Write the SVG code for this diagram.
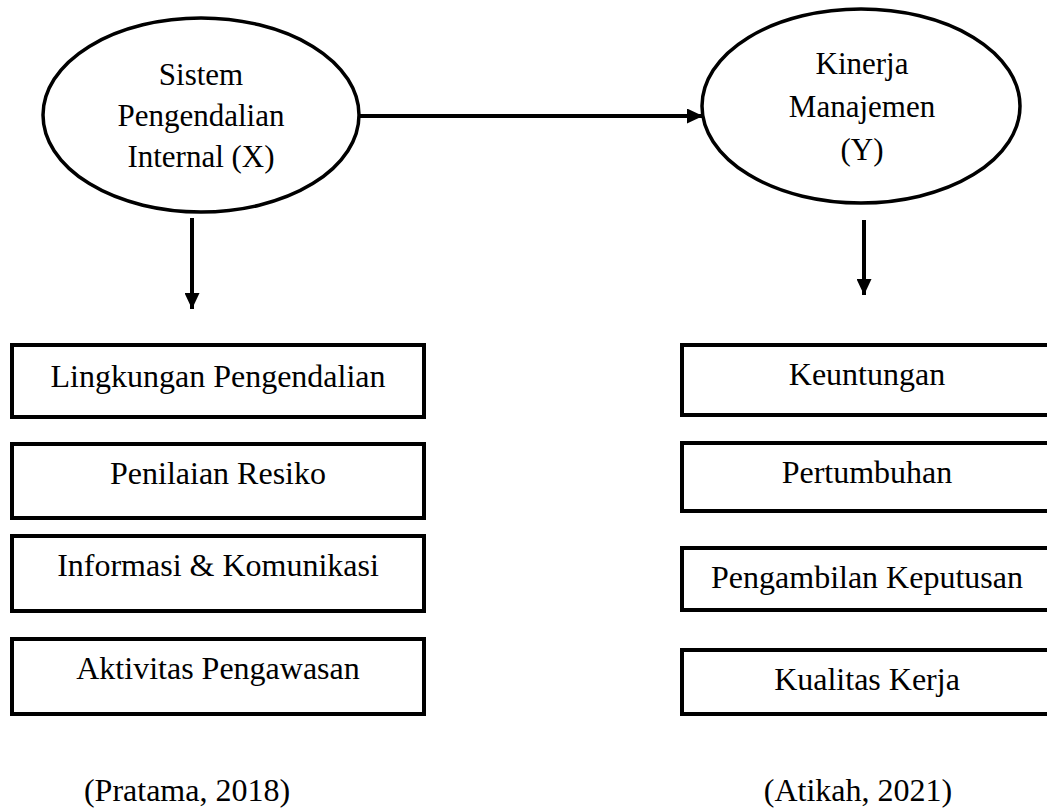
<svg xmlns="http://www.w3.org/2000/svg" width="1047" height="810" viewBox="0 0 1047 810">
  <defs>
    <style>
      .shape { fill: #ffffff; stroke: #000000; stroke-width: 4; }
      .ell { fill: #ffffff; stroke: #000000; stroke-width: 3.5; }
      .t { font-family: "Liberation Serif", "Times New Roman", serif; font-size: 32px; fill: #000000; text-anchor: middle; }
      .te { font-family: "Liberation Serif", "Times New Roman", serif; font-size: 31px; fill: #000000; text-anchor: middle; }
      .conn { stroke: #000000; stroke-width: 4; fill: none; }
    </style>
    <marker id="arrow" viewBox="0 0 16 15" refX="16" refY="7.5" markerWidth="16" markerHeight="15" markerUnits="userSpaceOnUse" orient="auto">
      <path d="M0,0 L16,7.5 L0,15 Z" fill="#000000"/>
    </marker>
  </defs>
  <rect width="1047" height="810" fill="#ffffff"/>

  <g id="connectors">
    <line class="conn" x1="360" y1="116" x2="703" y2="116" marker-end="url(#arrow)"/>
    <line class="conn" x1="192" y1="218" x2="192" y2="309" marker-end="url(#arrow)"/>
    <line class="conn" x1="864" y1="220" x2="864" y2="295" marker-end="url(#arrow)"/>
  </g>

  <g id="node-x">
    <ellipse class="ell" cx="201" cy="115" rx="158" ry="97"/>
    <text class="te" x="201" y="85">Sistem</text>
    <text class="te" x="201" y="126">Pengendalian</text>
    <text class="te" x="201" y="167">Internal (X)</text>
  </g>

  <g id="node-y">
    <ellipse class="ell" cx="861" cy="106" rx="159" ry="97"/>
    <text class="te" x="862" y="74">Kinerja</text>
    <text class="te" x="862" y="117">Manajemen</text>
    <text class="te" x="862" y="160">(Y)</text>
  </g>

  <g id="x1">
    <rect class="shape" x="12" y="345" width="412" height="72"/>
    <text class="t" x="218" y="387">Lingkungan Pengendalian</text>
  </g>
  <g id="x2">
    <rect class="shape" x="12" y="444" width="412" height="74"/>
    <text class="t" x="218" y="484">Penilaian Resiko</text>
  </g>
  <g id="x3">
    <rect class="shape" x="12" y="536" width="412" height="75"/>
    <text class="t" x="218" y="576">Informasi &amp; Komunikasi</text>
  </g>
  <g id="x4">
    <rect class="shape" x="12" y="639" width="412" height="75"/>
    <text class="t" x="218" y="679">Aktivitas Pengawasan</text>
  </g>

  <g id="y1">
    <rect class="shape" x="682" y="345" width="372" height="70"/>
    <text class="t" x="867" y="385">Keuntungan</text>
  </g>
  <g id="y2">
    <rect class="shape" x="682" y="443" width="372" height="68"/>
    <text class="t" x="867" y="483">Pertumbuhan</text>
  </g>
  <g id="y3">
    <rect class="shape" x="682" y="548" width="372" height="62"/>
    <text class="t" x="867" y="588">Pengambilan Keputusan</text>
  </g>
  <g id="y4">
    <rect class="shape" x="682" y="650" width="372" height="64"/>
    <text class="t" x="867" y="690">Kualitas Kerja</text>
  </g>

  <g id="citations">
    <text class="t" x="187" y="801">(Pratama, 2018)</text>
    <text class="t" x="858" y="801">(Atikah, 2021)</text>
  </g>
</svg>
